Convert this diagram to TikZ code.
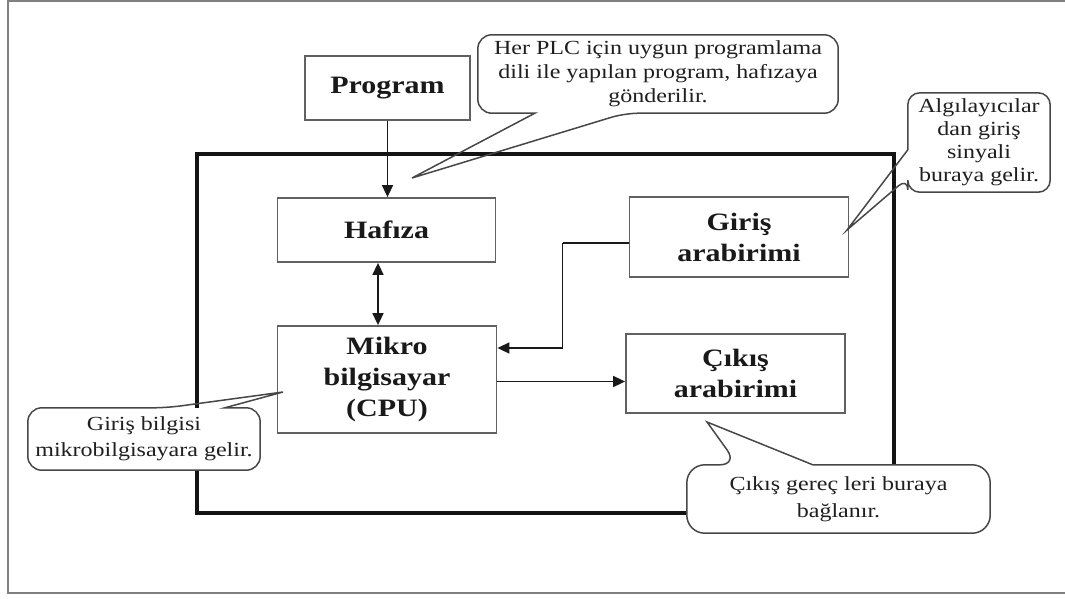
\documentclass[tikz,border=0pt]{standalone}
\usepackage{fontspec}
\setmainfont{Liberation Serif}[FakeStretch=1.2]
\usetikzlibrary{arrows.meta,calc}

\begin{document}
\begin{tikzpicture}[x=1pt,y=-1pt,
  unitbox/.style={draw=black!62, line width=1.8pt, fill=white, inner sep=0pt,
    align=center, text=black!90, font=\fontsize{25}{31}\selectfont\bfseries},
  plcframe/.style={draw=black!92, line width=3.2pt},
  arr/.style={draw=black!90, line width=1.6pt, -{Triangle[length=12pt,width=11pt]}},
  dblarr/.style={draw=black!90, line width=1.6pt,
    {Triangle[length=12pt,width=11pt]}-{Triangle[length=12pt,width=11pt]}},
  bubble/.style={fill=white, rounded corners=14pt, inner sep=0pt, align=center,
    text=black!88, font=\fontsize{20}{24}\selectfont},
  bubbleline/.style={draw=black!72, line width=1.5pt}]

\useasboundingbox (0,0) rectangle (1065,598);

% page border
\draw[black!50, line width=2pt] (1065,1) -- (8,1) -- (8,593) -- (1065,593);

% PLC enclosure
\draw[plcframe] (197,154) rectangle (894,513);

% functional blocks
\node[unitbox, minimum width=165pt, minimum height=64pt] (prog) at (387.5,88) {Program};
\node[unitbox, minimum width=218pt, minimum height=64pt] (mem) at (386.5,230) {Hafıza};
\node[unitbox, minimum width=219pt, minimum height=107pt] (cpu) at (387,379.5) {Mikro\\bilgisayar\\(CPU)};
\node[unitbox, minimum width=219pt, minimum height=80pt] (in) at (739,237) {Giriş\\arabirimi};
\node[unitbox, minimum width=219pt, minimum height=79pt] (out) at (735.5,373.5) {Çıkış\\arabirimi};

% signal flow
\draw[arr] (prog.south) -- (prog.south |- mem.north);
\draw[dblarr] ([xshift=-8.5pt]mem.south) -- ([xshift=-8.5pt]mem.south |- cpu.north);
\draw[draw=black!90, line width=1.6pt] ([yshift=-6pt]in.west) -- ++(-66,0) coordinate (bend);
\draw[arr] (bend) |- ([yshift=31.5pt]cpu.east);
\draw[arr] ([yshift=-2pt]cpu.east) -- ([yshift=-2pt]cpu.east -| out.west);

% callout: program
\node[bubble, minimum width=360pt, minimum height=78pt] (c1) at (658,74)
  {Her PLC için uygun programlama\\dili ile yapılan program, hafızaya\\gönderilir.};
\coordinate (c1a) at ($(c1.south west)+(57,0)$);
\coordinate (c1b) at ($(c1.south west)+(147,0)$);
\coordinate (c1t) at (412,178);
\draw[bubbleline] (c1a) [rounded corners=14pt] -- (c1.south west) -- (c1.north west)
  -- (c1.north east) -- (c1.south east) -- (c1b) [sharp corners] -- (c1t) -- cycle;

% callout: input devices
\node[bubble, rounded corners=12pt, minimum width=142pt, minimum height=99pt,
  font=\fontsize{20}{23}\selectfont] (c2) at (979,142.5)
  {Algılayıcılar\\dan giriş\\sinyali\\buraya gelir.};
\coordinate (c2a) at ($(c2.north west)+(0,57)$);
\coordinate (c2b) at ($(c2.north west)+(0,85)$);
\coordinate (c2t) at (847,230);
\draw[bubbleline] (c2a) [rounded corners=12pt] -- (c2.north west) -- (c2.north east)
  -- (c2.south east) -- (c2.south west) -- (c2b) [sharp corners] -- (c2t) -- cycle;

% callout: input data to CPU
\node[bubble, minimum width=232pt, minimum height=62pt,
  font=\fontsize{20}{26}\selectfont] (c3) at (144,439)
  {Giriş bilgisi\\mikrobilgisayara gelir.};
\coordinate (c3a) at ($(c3.north west)+(139,0)$);
\coordinate (c3b) at ($(c3.north west)+(197,0)$);
\coordinate (c3t) at (283,392);
\draw[bubbleline] (c3b) [rounded corners=14pt] -- (c3.north east) -- (c3.south east)
  -- (c3.south west) -- (c3.north west) -- (c3a) [sharp corners] -- (c3t) -- cycle;

% callout: output devices
\node[bubble, rounded corners=18pt, minimum width=303pt, minimum height=68pt,
  font=\fontsize{20}{27}\selectfont] (c4) at (838.5,499)
  {Çıkış gereç leri buraya\\bağlanır.};
\coordinate (c4a) at ($(c4.north west)+(51,0)$);
\coordinate (c4b) at ($(c4.north west)+(126,0)$);
\coordinate (c4t) at (707,422);
\draw[bubbleline] (c4b) [rounded corners=18pt] -- (c4.north east) -- (c4.south east)
  -- (c4.south west) -- (c4.north west) -- (c4a) [sharp corners] -- (c4t) -- cycle;

\end{tikzpicture}
\end{document}
